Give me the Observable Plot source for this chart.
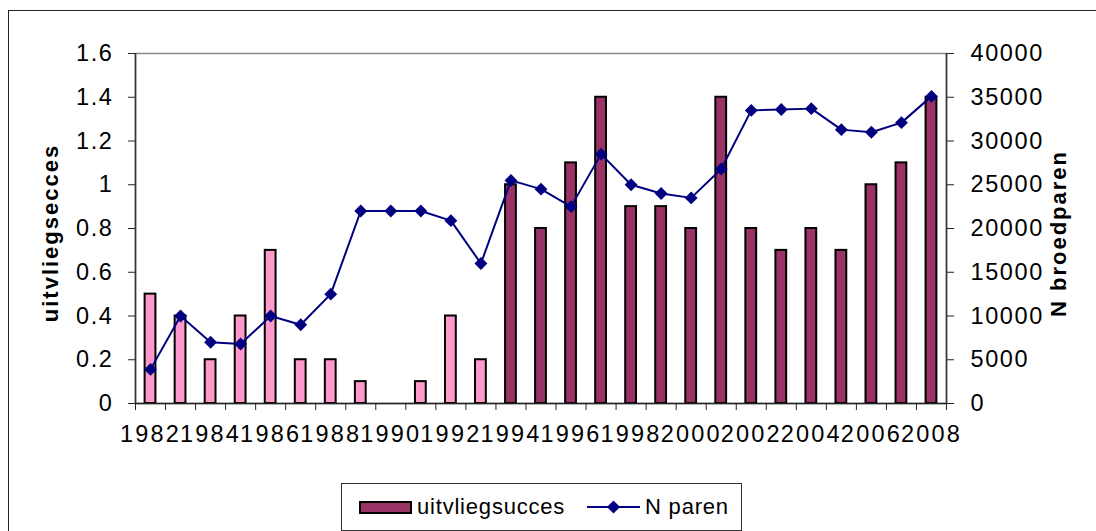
<!DOCTYPE html>
<html><head><meta charset="utf-8">
<script src="https://cdn.jsdelivr.net/npm/d3@7"></script>
<script src="https://cdn.jsdelivr.net/npm/@observablehq/plot@0.6"></script>
<style>
html,body{margin:0;padding:0;background:#fff;overflow:hidden;}
#wrap{position:relative;width:1096px;height:531px;font-family:Arial,"Liberation Sans",sans-serif;overflow:hidden;}
#frame{position:absolute;left:8px;top:10px;width:1200px;height:700px;border:1px solid #222;box-sizing:border-box;}
#chart{position:absolute;left:0;top:0;}
#chart svg text{letter-spacing:1.6px;}
#chart svg .xlab text{letter-spacing:2.2px;}
#legend{position:absolute;left:341px;top:483px;width:401px;height:48px;border:1px solid #333;box-sizing:border-box;background:#fff;}
</style></head><body>
<div id="wrap"><div id="frame"></div><div id="chart"></div><div id="legend"></div></div>
<script>
// ---- data ----
const years = [1982,1983,1984,1985,1986,1987,1988,1989,1990,1991,1992,1993,1994,1995,1996,1997,1998,1999,2000,2001,2002,2003,2004,2005,2006,2007,2008];
const succes = [0.5,0.4,0.2,0.4,0.7,0.2,0.2,0.1,0,0.1,0.4,0.2,1.0,0.8,1.1,1.4,0.9,0.9,0.8,1.4,0.8,0.7,0.8,0.7,1.0,1.1,1.4];
const paren = [3900,10000,7000,6800,10000,9000,12500,22000,22000,22000,20900,16000,25500,24500,22500,28500,25000,24000,23500,26800,33500,33600,33700,31300,31000,32100,35100];
const leftTicks = [0,0.2,0.4,0.6,0.8,1,1.2,1.4,1.6];
const rightTicks = [0,5000,10000,15000,20000,25000,30000,35000,40000];
const labelYears = [1982,1984,1986,1988,1990,1992,1994,1996,1998,2000,2002,2004,2006,2008];
const leftTitle = "uitvliegsecces";
const rightTitle = "N broedparen";
const legendBar = "uitvliegsucces";
const legendLine = "N paren";
const ratio = 40000 / 1.6;      // right axis units per left axis unit
const firstDarkYear = 1994;     // bars from this year on are drawn dark
const pink = "#FF99CC", maroon = "#993366", navy = "#000080";

const data = years.map((year, i) => ({year, succes: succes[i], paren: paren[i]}));
const bounds = years.map(y => y - 0.5).concat([years[years.length - 1] + 0.5]);

const chart = Plot.plot({
  width: 1096, height: 480,
  marginLeft: 135, marginRight: 150, marginTop: 53, marginBottom: 77,
  style: {fontFamily: 'Arial, "Liberation Sans", sans-serif', fontSize: "23.5px", color: "#000", background: "transparent", overflow: "visible"},
  x: {type: "linear", domain: [bounds[0], bounds[bounds.length - 1]]},
  y: {domain: [0, 1.6]},
  marks: [
    Plot.frame({stroke: "#8a8a8a", strokeWidth: 1.5}),
    Plot.rectY(data, {filter: d => d.succes > 0, x1: d => d.year - 0.18, x2: d => d.year + 0.18, y: "succes",
      fill: d => d.year < firstDarkYear ? pink : maroon, stroke: "#000", strokeWidth: 2}),
    Plot.ruleX([bounds[0], bounds[bounds.length - 1]], {stroke: "#333", strokeWidth: 1.5}),
    Plot.ruleY([0], {stroke: "#222", strokeWidth: 1.5}),
    Plot.axisY({anchor: "left", ticks: leftTicks, tickSize: 7, tickPadding: 15, fontSize: 23.5, tickFormat: d => String(+d.toFixed(1)), label: null, stroke: "#222"}),
    Plot.axisY({anchor: "right", ticks: rightTicks.map(v => v / ratio), tickSize: 7, tickPadding: 17, fontSize: 23.5, tickFormat: d => String(Math.round(d * ratio)), label: null, stroke: "#222"}),
    Plot.axisX({ticks: bounds, tickSize: 7, tickFormat: () => "", label: null, stroke: "#222"}),
    Plot.axisX({ticks: labelYears, tickSize: 0, tickPadding: 22, fontSize: 23.5, tickFormat: d => String(d), label: null, className: "xlab"}),
    Plot.line(data, {x: "year", y: d => d.paren / ratio, stroke: navy, strokeWidth: 2}),
    Plot.dot(data, {x: "year", y: d => d.paren / ratio, symbol: "diamond2", r: 5.8, fill: navy, stroke: "none"})
  ]
});
document.getElementById("chart").appendChild(chart);

// axis titles
const svg = d3.select(chart);
svg.append("text").text(leftTitle)
  .attr("transform", "translate(57.5,233) rotate(-90)")
  .attr("text-anchor", "middle").attr("font-weight", "bold").attr("font-size", 22)
  .style("letter-spacing", "2px").attr("fill", "#000");
svg.append("text").text(rightTitle)
  .attr("transform", "translate(1065.5,233.5) rotate(-90)")
  .attr("text-anchor", "middle").attr("font-weight", "bold").attr("font-size", 22)
  .style("letter-spacing", "2px").attr("fill", "#000");

// legend
const lg = d3.select("#legend").append("svg").attr("width", 399).attr("height", 46)
  .style("font-family", 'Arial, "Liberation Sans", sans-serif');
lg.append("rect").attr("x", 18).attr("y", 18).attr("width", 51).attr("height", 11)
  .attr("fill", maroon).attr("stroke", "#000").attr("stroke-width", 2);
lg.append("text").text(legendBar).attr("x", 75).attr("y", 30).attr("font-size", 22).style("letter-spacing", "0.8px");
lg.append("line").attr("x1", 245).attr("x2", 298).attr("y1", 23).attr("y2", 23).attr("stroke", navy).attr("stroke-width", 2);
lg.append("path").attr("d", d3.symbol(d3.symbolDiamond2, 110)()).attr("transform", "translate(271.5,23)").attr("fill", navy);
lg.append("text").text(legendLine).attr("x", 303).attr("y", 30).attr("font-size", 22).style("letter-spacing", "0.8px");
</script>
</body></html>
